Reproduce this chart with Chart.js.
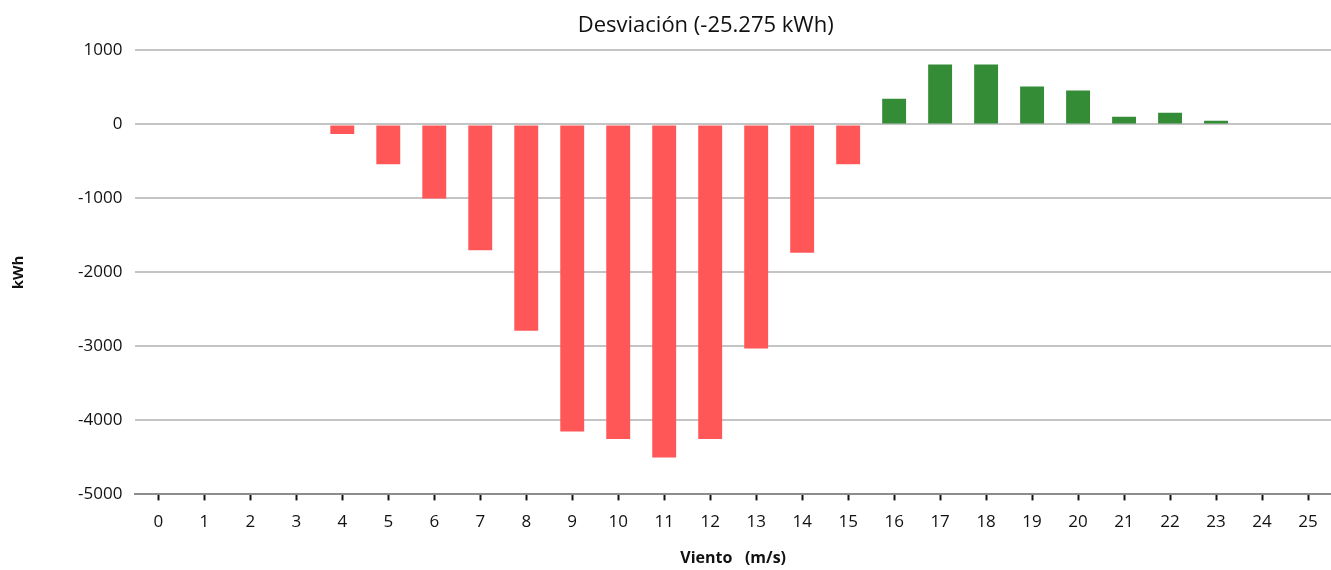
<!DOCTYPE html>
<html>
<head>
<meta charset="utf-8">
<script src="https://cdn.jsdelivr.net/npm/chart.js@4/dist/chart.umd.min.js"></script>
<style>
    html, body { margin: 0; padding: 0; background: #ffffff; }
    #wrap { width: 1331px; height: 570px; }
</style>
</head>
<body>
<div id="wrap"><canvas id="devChart"></canvas></div>
<script>
/* ── Deviation per wind speed bin (kWh) ── */
const windBins   = ['0','1','2','3','4','5','6','7','8','9','10','11','12','13','14','15','16','17','18','19','20','21','22','23','24','25'];
const deviation  = [0, 0, 0, 0, -130, -540, -1000, -1700, -2790, -4150, -4250, -4500, -4250, -3030, -1735, -540,
                    348, 809, 809, 511, 457, 104, 159, 50, 0, 0];
const yTicks     = [1000, 0, -1000, -2000, -3000, -4000, -5000];

const RED   = '#ff5757';
const GREEN = '#358c37';
const FONT  = '"Open Sans", "Noto Sans", sans-serif';

/* centre the title over plot + value labels instead of the plot alone */
const titleOverLabels = {
    id: 'titleOverLabels',
    afterLayout(chart) {
        const t = chart.titleBlock;
        if (!t) return;
        t.left  = chart.chartArea.left - 55;
        t.right = chart.chartArea.right;
        t.width = t.right - t.left;
    }
};

new Chart(document.getElementById('devChart'), {
    type: 'bar',
    data: {
        labels: windBins,
        datasets: [{
            label: 'Desviación',
            data: deviation,
            backgroundColor: deviation.map(v => v < 0 ? RED : GREEN),
            barPercentage: 0.52,
            categoryPercentage: 1.0
        }]
    },
    plugins: [titleOverLabels],
    options: {
        responsive: true,
        maintainAspectRatio: false,
        animation: false,
        layout: { padding: { top: 0, right: 0, left: 0, bottom: 2 } },
        plugins: {
            legend: { display: false },
            tooltip: { enabled: false },
            title: {
                display: true,
                fullSize: false,
                text: 'Desviación (-25.275 kWh)',
                color: '#111111',
                font: { size: 22, family: FONT, weight: '400' },
                padding: { top: 13, bottom: 11 }
            }
        },
        scales: {
            x: {
                offset: true,
                grid: {
                    offset: false,
                    drawOnChartArea: false,
                    drawTicks: true,
                    tickLength: 6,
                    tickColor: '#111111',
                    tickWidth: 2
                },
                border: { color: '#8c8c8c', width: 2 },
                ticks: { color: '#111111', font: { size: 17, family: FONT }, padding: 12, maxRotation: 0 },
                title: {
                    display: true,
                    text: 'Viento   (m/s)',
                    color: '#111111',
                    font: { size: 16, family: FONT, weight: '700' },
                    padding: { top: 4, bottom: 0 }
                }
            },
            y: {
                min: -5000, max: 1000,
                afterBuildTicks: axis => { axis.ticks = yTicks.map(v => ({ value: v })); },
                grid: { color: '#c4c4c4', lineWidth: 2, drawTicks: false },
                border: { display: false },
                ticks: {
                    color: '#111111',
                    font: { size: 17, family: FONT },
                    padding: 13,
                    callback: v => String(v)
                },
                title: {
                    display: true,
                    text: 'kWh',
                    color: '#111111',
                    font: { size: 15, family: FONT, weight: '700' },
                    padding: { top: 10, bottom: 37 }
                }
            }
        }
    }
});
</script>
</body>
</html>
